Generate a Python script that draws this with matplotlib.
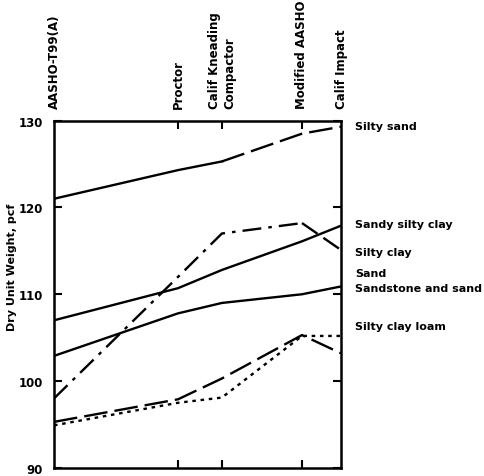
import matplotlib
matplotlib.use("Agg")
import matplotlib.pyplot as plt

# compaction methods along the top (spacing)
methods = ["AASHO-T99(A)", "Proctor", "Calif Kneading\nCompactor", "Modified AASHO", "Calif Impact"]
method_x = [0, 4.32, 5.85, 8.64, 10]

# dry unit weight (pcf) per soil, one value per method
silty_sand = [121.0, 124.3, 125.3, 128.5, 129.3]
sandy_silty_clay = [107.0, 110.7, 112.8, 116.1, 117.9]
silty_clay = [98.0, 112.0, 117.0, 118.2, 115.1]
sandstone_sand = [102.9, 107.8, 109.0, 110.0, 110.9]
sand = [95.3, 97.9, 100.3, 105.3, 103.2]
silty_clay_loam = [94.9, 97.5, 98.1, 105.2, 105.2]

soil_labels = ["Silty sand", "Sandy silty clay", "Silty clay", "Sand",
               "Sandstone and sand", "Silty clay loam"]

fig = plt.figure(figsize=(4.84, 4.77), dpi=100)
ax = fig.add_axes([0.1116, 0.017, 0.593, 0.728])

lw = 1.7
# silty sand: solid then long dashes
ax.plot(method_x[:3], silty_sand[:3], color="black", lw=lw)
ax.plot(method_x[2:], silty_sand[2:], color="black", lw=lw, dashes=(10, 3))
ax.plot(method_x, sandy_silty_clay, color="black", lw=lw)
# silty clay: dash-dot, then dashed last segment
ax.plot(method_x[:4], silty_clay[:4], color="black", lw=lw, dashes=(8, 3, 1.5, 3))
ax.plot(method_x[3:], silty_clay[3:], color="black", lw=lw, dashes=(8, 3))
ax.plot(method_x, sandstone_sand, color="black", lw=lw)
ax.plot(method_x, sand, color="black", lw=lw, dashes=(10, 3))
ax.plot(method_x, silty_clay_loam, color="black", lw=lw, dashes=(1.5, 2))

ax.set_xlim(0, 10)
ax.set_ylim(90, 130)
ax.set_yticks([90, 100, 110, 120, 130])
ax.set_xticks(method_x[1:4])
ax.tick_params(axis="y", direction="in", length=6, width=1.5, pad=8,
               labelsize=8.5, right=True)
ax.tick_params(axis="x", direction="in", length=6, width=1.5, top=True,
               labelbottom=False)
for lab in ax.get_yticklabels():
    lab.set_fontweight("bold")
for sp in ax.spines.values():
    sp.set_linewidth(1.8)

ax.set_ylabel("Dry Unit Weight, pcf", fontsize=8, fontweight="bold", labelpad=12)
ax.yaxis.set_label_coords(-0.13, 0.58)

# method names, rotated above the top spine
for x, name in zip(method_x, methods):
    ax.text(x, 131.5, name, rotation=90, ha="center", va="bottom",
            fontsize=8.5, fontweight="bold", multialignment="left")

# soil names at the right edge
label_y = [129.4, 118.1, 114.9, 112.5, 110.7, 106.3]
for y, name in zip(label_y, soil_labels):
    ax.text(10.5, y, name, ha="left", va="center", fontsize=8, fontweight="bold")

fig.savefig("out.png", dpi=100)
